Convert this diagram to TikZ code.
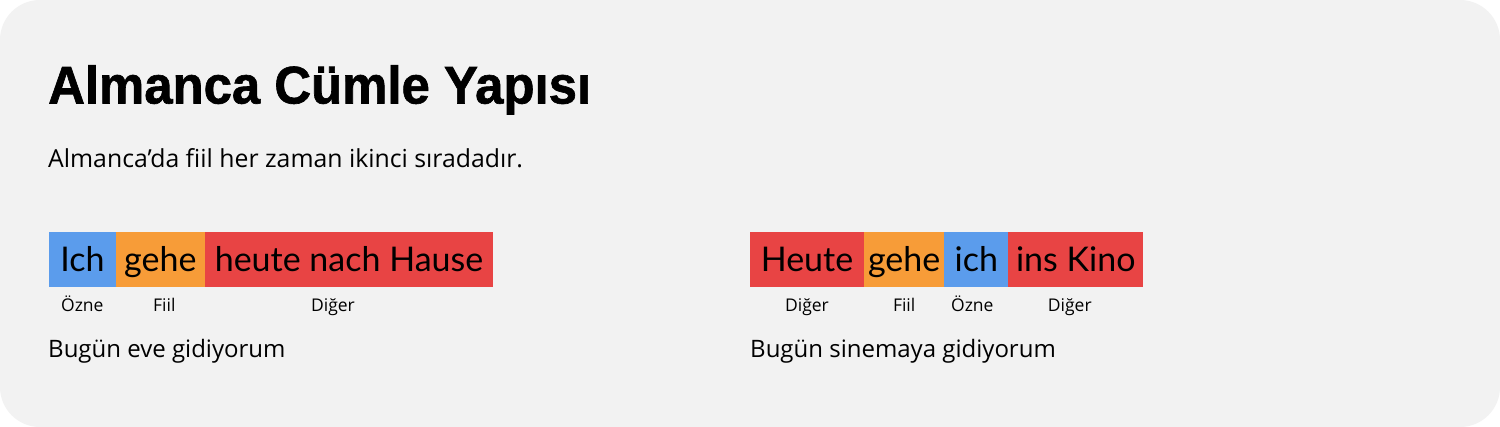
\documentclass[tikz,border=0pt]{standalone}
\usepackage{fontspec}
\setmainfont{Open Sans}
\newfontfamily\boxfont{Lato}
\newfontfamily\titlefont[FakeStretch=0.96,FakeBold=1.2]{Liberation Sans}
\usepackage{xcolor}
\usetikzlibrary{positioning}

\definecolor{panelgray}{HTML}{F2F2F2}
\definecolor{subjblue}{HTML}{5B9CEC}
\definecolor{verborange}{HTML}{F79C38}
\definecolor{otherred}{HTML}{E84444}

\begin{document}
\begin{tikzpicture}
            [
            x=1pt, y=-1pt,
            wordbox/.style={inner sep=0pt, outer sep=0pt, minimum height=55pt,
              text height=24pt, text depth=0pt, font=\boxfont\fontsize{34}{36}\selectfont},
            role/.style={anchor=base, inner sep=0pt, font=\fontsize{17.5}{20}\selectfont},
            example/.style={anchor=base west, inner sep=0pt, font=\fontsize{24}{28}\selectfont},
            node distance=0pt
            ]
        % panel
        \fill[white] (0,0) rectangle (1500,427);
        \fill[panelgray, rounded corners=40pt] (0,0) rectangle (1500,427);
        \node[anchor=base west, inner sep=0pt, font=\titlefont\bfseries\fontsize{53}{60}\selectfont] (title) at (48,103.5) {Almanca Cümle Yapısı};
        \node[example, font=\fontsize{24.8}{28}\selectfont] (intro) at (48,168) {Almanca’da fiil her zaman ikinci sıradadır.};
        % first sentence
        \node[wordbox, fill=subjblue, minimum width=67.3pt, anchor=north west] (ich1) at (48.7,232) {Ich};
        \node[wordbox, fill=verborange, minimum width=88.7pt, right=of ich1] (gehe1) {gehe};
        \node[wordbox, fill=otherred, minimum width=288.6pt, right=of gehe1] (rest1) {heute nach Hause};
        \node[role] (r1a) at ([yshift=-24.7pt]ich1.south) {Özne};
        \node[role] (r1b) at ([xshift=4pt,yshift=-24.7pt]gehe1.south) {Fiil};
        \node[role] (r1c) at ([xshift=-16pt,yshift=-24.7pt]rest1.south) {Diğer};
        \node[example] (tr1) at (48,357.5) {Bugün eve gidiyorum};
        % second sentence
        \node[wordbox, fill=otherred, minimum width=114pt, anchor=north west] (heute2) at (750,232) {Heute};
        \node[wordbox, fill=verborange, minimum width=80.3pt, right=of heute2] (gehe2) {gehe};
        \node[wordbox, fill=subjblue, minimum width=64pt, right=of gehe2] (ich2) {ich};
        \node[wordbox, fill=otherred, minimum width=135pt, right=of ich2] (kino2) {ins Kino};
        \node[role] (r2a) at ([yshift=-24.7pt]heute2.south) {Diğer};
        \node[role] (r2b) at ([yshift=-24.7pt]gehe2.south) {Fiil};
        \node[role] (r2c) at ([xshift=-4pt,yshift=-24.7pt]ich2.south) {Özne};
        \node[role] (r2d) at ([xshift=-6pt,yshift=-24.7pt]kino2.south) {Diğer};
        \node[example] (tr2) at (750,357.5) {Bugün sinemaya gidiyorum};
        \end{tikzpicture}
\end{document}
